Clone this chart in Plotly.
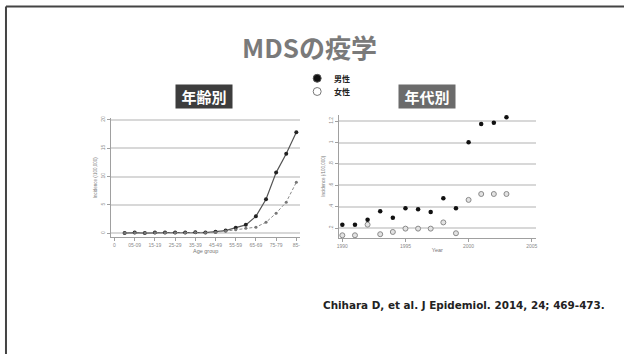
import plotly.graph_objects as go

# Incidence by age group (/100,000)
age_groups = ["00-04", "05-09", "10-14", "15-19", "20-24", "25-29", "30-34",
              "35-39", "40-44", "45-49", "50-54", "55-59", "60-64", "65-69",
              "70-74", "75-79", "80-84", "85-"]
male_by_age = [0.05, 0.15, 0.05, 0.15, 0.15, 0.15, 0.15, 0.2, 0.15, 0.3,
               0.5, 1.0, 1.5, 3.0, 6.0, 10.7, 14.0, 17.8]
female_by_age = [0.05, 0.1, 0.05, 0.1, 0.1, 0.1, 0.1, 0.15, 0.1, 0.2,
                 0.4, 0.65, 0.9, 1.1, 1.95, 3.55, 5.5, 9.0]
age_tick_labels = ["0", "05-09", "15-19", "25-29", "35-39", "45-49",
                   "55-59", "65-69", "75-79", "85-"]

# Incidence by calendar year (/100,000)
years = list(range(1990, 2004))
male_by_year = [0.234, 0.234, 0.28, 0.36, 0.298, 0.388, 0.378, 0.351,
                0.48, 0.388, 1.003, 1.172, 1.185, 1.237]
female_by_year = [0.135, 0.135, 0.234, 0.145, 0.166, 0.197, 0.197, 0.197,
                  0.255, 0.154, 0.465, 0.52, 0.52, 0.52]
year_ticks = [1990, 1995, 2000, 2005]
year_rate_ticks = [0.2, 0.4, 0.6, 0.8, 1.0, 1.2]
year_rate_labels = [".2", ".4", ".6", ".8", "1", "1.2"]

W, H = 625, 354
JP = "Noto Sans CJK JP"
TICK_FONT = dict(family="Liberation Sans", size=5, color="#8a8a8a")

age_pos = list(range(1, len(age_groups) + 1))

fig = go.Figure()

fig.add_trace(go.Scatter(
    x=age_pos, y=male_by_age, mode="lines+markers", name="男性",
    line=dict(color="#555555", width=1.2),
    marker=dict(color="#222222", size=4),
    xaxis="x", yaxis="y", showlegend=False,
))
fig.add_trace(go.Scatter(
    x=age_pos, y=female_by_age, mode="lines+markers", name="女性",
    line=dict(color="#8a8a8a", width=1, dash="3px,2px"),
    marker=dict(color="#777777", size=3),
    xaxis="x", yaxis="y", showlegend=False,
))
fig.add_trace(go.Scatter(
    x=years, y=female_by_year, mode="markers", name="女性",
    marker=dict(color="#e2e2e2", size=5, line=dict(color="#8a8a8a", width=1)),
    xaxis="x2", yaxis="y2", showlegend=False,
))
fig.add_trace(go.Scatter(
    x=years, y=male_by_year, mode="markers", name="男性",
    marker=dict(color="#111111", size=4.5),
    xaxis="x2", yaxis="y2", showlegend=False,
))

axis_common = dict(
    showline=True, linecolor="#a0a0a0", linewidth=1,
    ticks="outside", ticklen=3, tickcolor="#a0a0a0",
    tickfont=TICK_FONT, zeroline=False,
)


def px_x(p):
    return p / W


def px_y(p):
    return 1 - p / H


fig.update_layout(
    width=W, height=H,
    margin=dict(l=0, r=0, t=0, b=0),
    paper_bgcolor="white", plot_bgcolor="white",
    xaxis=dict(
        domain=[px_x(110), px_x(299.3)], range=[-0.3, 18.35],
        tickvals=list(range(0, 19, 2)), ticktext=age_tick_labels,
        showgrid=False, anchor="y",
        title=dict(text="Age group", font=dict(family="Liberation Sans", size=5.5, color="#777"), standoff=0),
        **axis_common,
    ),
    yaxis=dict(
        domain=[px_y(236.7), px_y(116.7)], range=[-0.7, 20.3],
        tickvals=[0, 5, 10, 15, 20], tickangle=-90,
        showgrid=True, gridcolor="#d8d8d8", gridwidth=2, anchor="x",
        title=dict(text="Incidence (/100,000)", font=dict(family="Liberation Sans", size=4.5, color="#777"), standoff=2),
        **axis_common,
    ),
    xaxis2=dict(
        domain=[px_x(338.3), px_x(536.7)], range=[1989.71, 2005.35],
        tickvals=year_ticks, showgrid=False, anchor="y2",
        title=dict(text="Year", font=dict(family="Liberation Sans", size=5.5, color="#777"), standoff=0),
        **axis_common,
    ),
    yaxis2=dict(
        domain=[px_y(237.3), px_y(113.3)], range=[0.11, 1.26],
        tickvals=year_rate_ticks, ticktext=year_rate_labels, tickangle=-90,
        showgrid=True, gridcolor="#d8d8d8", gridwidth=2, anchor="x2",
        title=dict(text="Incidence (/100,000)", font=dict(family="Liberation Sans", size=4.5, color="#777"), standoff=2),
        **axis_common,
    ),
)

# Slide frame (top and left edges)
fig.add_shape(type="line", xref="paper", yref="paper",
              x0=px_x(4), x1=1, y0=px_y(4.5), y1=px_y(4.5),
              line=dict(color="#444444", width=2))
fig.add_shape(type="line", xref="paper", yref="paper",
              x0=px_x(4), x1=px_x(4), y0=px_y(4.5), y1=0,
              line=dict(color="#444444", width=2))

# Slide title
fig.add_annotation(
    text="<b>MDSの疫学</b>", xref="paper", yref="paper",
    x=px_x(309), y=px_y(45), xanchor="center", yanchor="middle",
    showarrow=False,
    font=dict(family=JP, size=26, color="#7a7a7a"),
)

# Panel labels
for label, cx, bg in [("年齢別", 203.3, "#3d3d3d"), ("年代別", 427.3, "#6b6b6b")]:
    fig.add_annotation(
        text=f"<b>{label}</b>", xref="paper", yref="paper",
        x=px_x(cx), y=px_y(95.3), xanchor="center", yanchor="middle",
        showarrow=False,
        width=52, height=19, bgcolor=bg, borderpad=2,
        font=dict(family=JP, size=15, color="white"),
    )

# Legend key
r = 4
fig.add_shape(type="circle", xref="paper", yref="paper",
              x0=px_x(316.7 - r), x1=px_x(316.7 + r),
              y0=px_y(76.7 + r), y1=px_y(76.7 - r),
              fillcolor="#111111", line=dict(color="#555555", width=1))
fig.add_shape(type="circle", xref="paper", yref="paper",
              x0=px_x(316.7 - r), x1=px_x(316.7 + r),
              y0=px_y(90 + r), y1=px_y(90 - r),
              fillcolor="white", line=dict(color="#777777", width=1))
for label, cy in [("男性", 76.7), ("女性", 90)]:
    fig.add_annotation(
        text=f"<b>{label}</b>", xref="paper", yref="paper",
        x=px_x(332), y=px_y(cy), xanchor="left", yanchor="middle",
        showarrow=False,
        font=dict(family=JP, size=8, color="#222222"),
    )

# Source
fig.add_annotation(
    text="<b>Chihara D, et al. J Epidemiol. 2014, 24; 469-473.</b>",
    xref="paper", yref="paper", x=px_x(464.2), y=px_y(305),
    xanchor="center", yanchor="middle", showarrow=False,
    font=dict(family="DejaVu Sans", size=10.4, color="#222222"),
)

fig.write_html("out.html")
